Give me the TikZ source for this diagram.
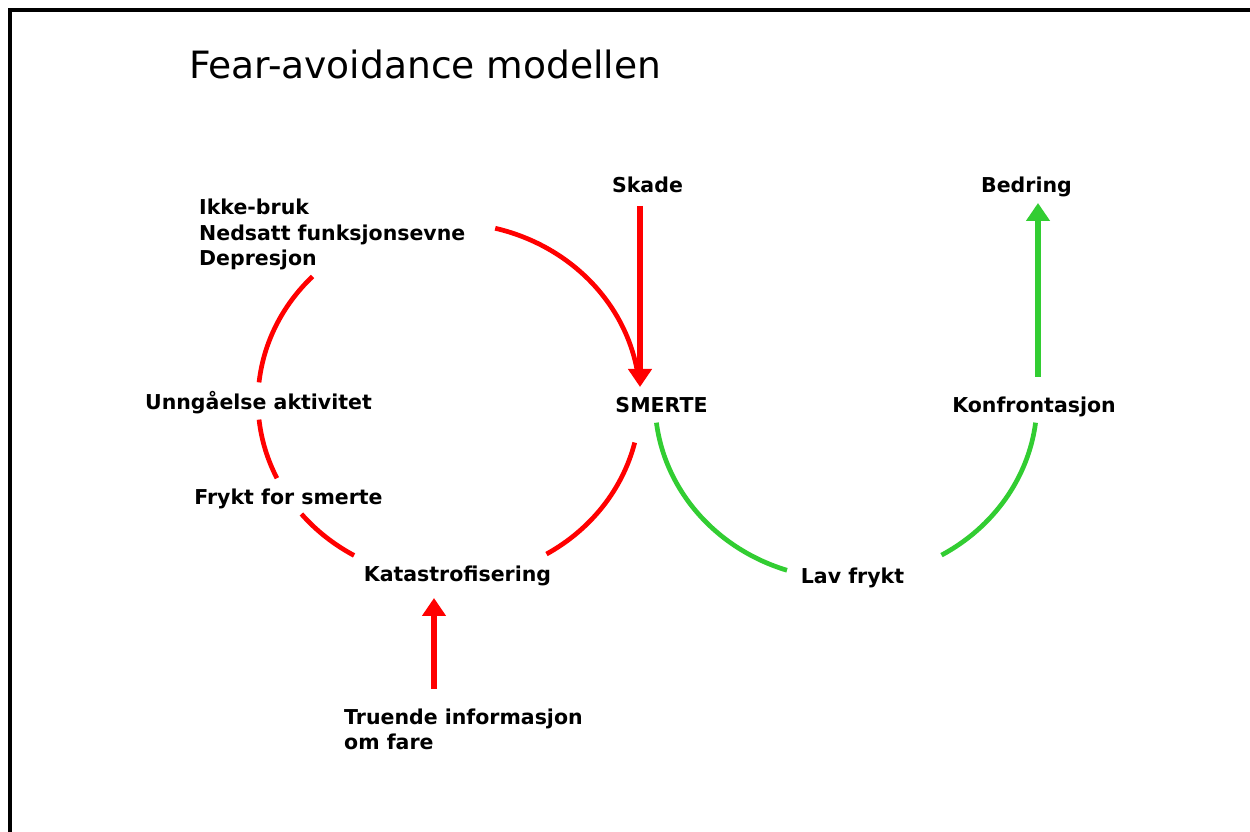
\documentclass[tikz,border=0pt]{standalone}
\usepackage{fontspec}
\setmainfont{DejaVu Sans}
\usetikzlibrary{arrows.meta}
\definecolor{fared}{RGB}{255,0,0}
\definecolor{fagreen}{RGB}{50,205,50}
\begin{document}
\begin{tikzpicture}[x=1pt,y=1pt,
  lbl/.style={font=\bfseries\fontsize{20.5}{25.5}\selectfont, inner sep=0pt, anchor=base},
  lblL/.style={lbl, anchor=base west, align=left},
  arcline/.style={line width=4.7pt},
  shaft/.style={line width=6pt, -{Triangle[length=18pt,width=23pt]}},
]
\useasboundingbox (0,0) rectangle (1250,832);
\fill[white] (0,0) rectangle (1250,832);
\draw[line width=3.3pt] (10,0) -- (10,822) -- (1250,822);

\node[anchor=base west, inner sep=0pt, font=\fontsize{37.6}{40}\selectfont] (title) at (189,753) {Fear-avoidance modellen};

\node[lbl] (skade) at (647.5,639) {Skade};
\node[lbl] (bedring) at (1026.5,639) {Bedring};
\node[lbl] (smerte) at (661.5,419) {SMERTE};
\node[lbl] (konfr) at (1034,419) {Konfrontasjon};
\node[lbl] (lav) at (852.5,248) {Lav frykt};
\node[lbl] (kata) at (457.5,250) {Katastrofisering};
\node[lbl] (frykt) at (288.5,327) {Frykt for smerte};
\node[lbl] (unng) at (258.5,422) {Unngåelse aktivitet};
\node[lblL] (ikke) at (199,566) {Ikke-bruk\\Nedsatt funksjonsevne\\Depresjon};
\node[lblL] (truende) at (344,82) {Truende informasjon\\om fare};

\coordinate (cL) at (449,431);
\coordinate (cR) at (846,431);
\coordinate (skadeT) at (640,626);
\coordinate (smerteT) at (640,445);
\coordinate (bedT) at (1038,629);
\coordinate (konT) at (1038,455);
\coordinate (kataT) at (434,234);
\coordinate (truT) at (434,143);

\begin{scope}[fared, arcline]
\draw (cL) ++(76:191 and 178) arc[start angle=76, end angle=9, x radius=191, y radius=178];
\draw (cL) ++(135.6:191 and 178) arc[start angle=135.6, end angle=174, x radius=191, y radius=178];
\draw (cL) ++(186:191 and 178) arc[start angle=186, end angle=205.7, x radius=191, y radius=178];
\draw (cL) ++(219.4:191 and 178) arc[start angle=219.4, end angle=240.2, x radius=191, y radius=178];
\draw (cL) ++(300.7:191 and 178) arc[start angle=300.7, end angle=346.5, x radius=191, y radius=178];
\end{scope}
\begin{scope}[fagreen, arcline]
\draw (cR) ++(187:191 and 178) arc[start angle=187, end angle=252, x radius=191, y radius=178];
\draw (cR) ++(300:191 and 178) arc[start angle=300, end angle=353, x radius=191, y radius=178];
\end{scope}

\draw[shaft, fared] (skadeT) -- (smerteT);
\draw[shaft, fared] (truT) -- (kataT);
\draw[shaft, fagreen] (konT) -- (bedT);
\end{tikzpicture}
\end{document}
